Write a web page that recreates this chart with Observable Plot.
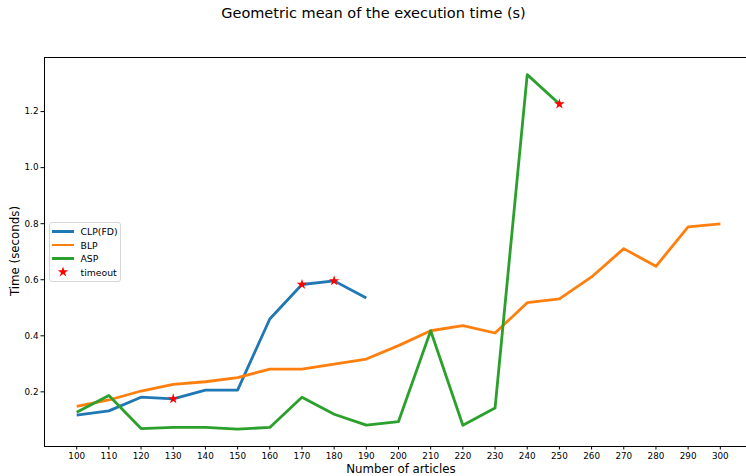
<!DOCTYPE html>
<html>
<head>
<meta charset="utf-8">
<script src="https://cdn.jsdelivr.net/npm/d3@7"></script>
<script src="https://cdn.jsdelivr.net/npm/@observablehq/plot@0.6"></script>
<style>
  html, body { margin: 0; padding: 0; background: #fff; }
  #fig { position: relative; width: 746px; height: 476px; font-family: "DejaVu Sans", sans-serif; color: #000; overflow: hidden; }
  #title { position: absolute; left: 0; width: 747px; top: 5px; text-align: center; font-size: 14.5px; }
  #xlabel { position: absolute; left: 44px; width: 714px; top: 462px; text-align: center; font-size: 11.8px; }
  #ylabel { position: absolute; left: 14.5px; top: 251px; font-size: 11.8px; transform: translate(-50%, -50%) rotate(-90deg); white-space: nowrap; }
  #legend { position: absolute; left: 49px; top: 222px; width: 72px; height: 60px; border: 1px solid #d6d6d6; border-radius: 3px; background: rgba(255,255,255,0.8); box-sizing: border-box; font-size: 9.3px; }
  .item { position: absolute; left: 2px; height: 12px; display: flex; align-items: center; }
  .swatch { width: 22px; height: 12px; position: relative; margin-right: 6.5px; }
  .swatch .ln { position: absolute; left: 0; right: 0; top: 4.6px; height: 2.8px; }
</style>
</head>
<body>
<div id="fig">
  <div id="chart"></div>
  <div id="title">Geometric mean of the execution time (s)</div>
  <div id="xlabel">Number of articles</div>
  <div id="ylabel">Time (seconds)</div>
  <div id="legend"></div>
</div>
<script>
// ---- data ----
const articles = [100,110,120,130,140,150,160,170,180,190,200,210,220,230,240,250,260,270,280,290,300];
const xTicks = [100,110,120,130,140,150,160,170,180,190,200,210,220,230,240,250,260,270,280,290,300];
const yTicks = [0.2,0.4,0.6,0.8,1.0,1.2];
const seriesNames = ["CLP(FD)", "BLP", "ASP"];
const seriesColors = ["#1f77b4", "#ff7f0e", "#2ca02c"];
const clpValues = [0.117,0.132,0.181,0.175,0.206,0.206,0.460,0.583,0.596,0.535];
const blpValues = [0.148,0.171,0.203,0.227,0.236,0.251,0.281,0.281,0.299,0.317,0.365,0.418,0.436,0.410,0.518,0.532,0.610,0.711,0.648,0.789,0.799];
const aspValues = [0.127,0.187,0.069,0.073,0.073,0.067,0.073,0.181,0.120,0.081,0.094,0.418,0.081,0.142,1.332,1.227];
const timeoutSeries = ["CLP(FD)", "CLP(FD)", "CLP(FD)", "ASP"];
const timeoutArticles = [130, 170, 180, 250];

// ---- build tables ----
const valuesBySeries = {"CLP(FD)": clpValues, "BLP": blpValues, "ASP": aspValues};
const rows = [];
for (const s of seriesNames) {
  valuesBySeries[s].forEach((v, i) => rows.push({series: s, x: articles[i], y: v}));
}
const timeouts = timeoutArticles.map((a, i) => {
  const vals = valuesBySeries[timeoutSeries[i]];
  return {x: a, y: vals[articles.indexOf(a)]};
});

const starR = 3.3;

const chart = Plot.plot({
  width: 746,
  height: 476,
  marginLeft: 44,
  marginRight: -6,
  marginTop: 57,
  marginBottom: 30,
  style: {fontFamily: "DejaVu Sans, sans-serif", fontSize: "8.8px", color: "#000", background: "#fff", overflow: "visible"},
  x: {domain: [90, 310], axis: null},
  y: {domain: [0.005, 1.393], axis: null},
  color: {domain: seriesNames, range: seriesColors},
  marks: [
    Plot.line(rows, {x: "x", y: "y", z: "series", stroke: "series", strokeWidth: 2.8, strokeLinejoin: "round", strokeLinecap: "butt"}),
    Plot.dot(timeouts, {x: "x", y: "y", symbol: "star", fill: "red", stroke: "none", r: starR}),
    Plot.frame({stroke: "#000", strokeWidth: 1}),
    Plot.axisX({ticks: xTicks, tickSize: 3.5, tickPadding: 3.2, tickFormat: d => String(d), label: null, fontSize: 8.8, stroke: "#000"}),
    Plot.axisY({ticks: yTicks, tickSize: 3.5, tickPadding: 2.5, tickFormat: d3.format(".1f"), label: null, fontSize: 8.8, stroke: "#000"})
  ]
});
document.getElementById("chart").appendChild(chart);

// ---- legend ----
const legend = document.getElementById("legend");
const entries = seriesNames.map((s, i) => ({label: s, color: seriesColors[i], kind: "line"}));
entries.push({label: "timeout", color: "red", kind: "star"});
entries.forEach((e, i) => {
  const item = document.createElement("div");
  item.className = "item";
  item.style.top = (2.5 + i * 13.6) + "px";
  const sw = document.createElement("div");
  sw.className = "swatch";
  if (e.kind === "line") {
    const ln = document.createElement("div");
    ln.className = "ln";
    ln.style.background = e.color;
    sw.appendChild(ln);
  } else {
    const star = d3.symbol(d3.symbolStar, starR * starR * Math.PI)();
    sw.innerHTML = `<svg width="22" height="12" style="position:absolute;left:0;top:0"><path d="${star}" transform="translate(11,6)" fill="red"/></svg>`;
  }
  item.appendChild(sw);
  const t = document.createElement("span");
  t.textContent = e.label;
  item.appendChild(t);
  legend.appendChild(item);
});
</script>
</body>
</html>
